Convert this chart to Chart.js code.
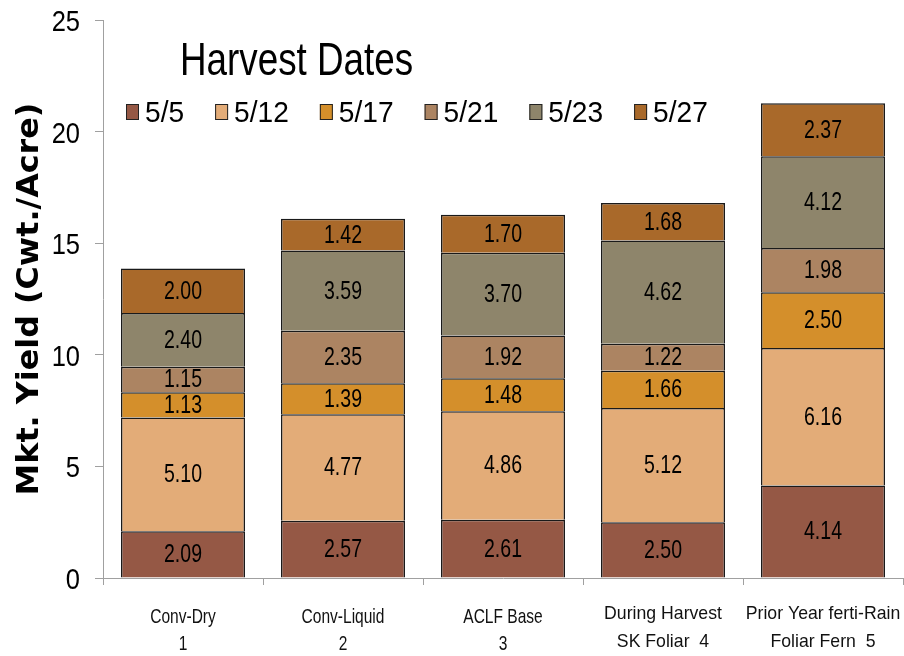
<!DOCTYPE html>
<html>
<head>
<meta charset="utf-8">
<script src="https://cdn.jsdelivr.net/npm/chart.js@4.4.1/dist/chart.umd.min.js"></script>
<style>
  html, body { margin: 0; padding: 0; background: #fff; }
  #wrap { width: 904px; height: 656px; position: relative; }
</style>
</head>
<body>
<div id="wrap"><canvas id="chart" width="904" height="656"></canvas></div>
<script>
/* ── data ── */
const categories = [
  ['Conv-Dry', '1'],
  ['Conv-Liquid', '2'],
  ['ACLF Base', '3'],
  ['During Harvest', 'SK Foliar  4'],
  ['Prior Year ferti-Rain', 'Foliar Fern  5']
];
const harvestDates = ['5/5', '5/12', '5/17', '5/21', '5/23', '5/27'];
const d0505 = [2.09, 2.57, 2.61, 2.50, 4.14];
const d0512 = [5.10, 4.77, 4.86, 5.12, 6.16];
const d0517 = [1.13, 1.39, 1.48, 1.66, 2.50];
const d0521 = [1.15, 2.35, 1.92, 1.22, 1.98];
const d0523 = [2.40, 3.59, 3.70, 4.62, 4.12];
const d0527 = [2.00, 1.42, 1.70, 1.68, 2.37];
const yTicks = [0, 5, 10, 15, 20, 25];

const COLORS = ['#955845', '#E3AC78', '#D48F2B', '#AC8462', '#8E856B', '#A9692A'];
const SANS = '"Liberation Sans", Arial, sans-serif';

const series = [d0505, d0512, d0517, d0521, d0523, d0527];

// draw text squeezed horizontally (stand-in for a narrow face)
function narrowText(ctx, text, x, y, sx) {
  ctx.save();
  ctx.translate(x, y);
  ctx.scale(sx, 1);
  ctx.fillText(text, 0, 0);
  ctx.restore();
}

/* ── axis labels, in-plot title + legend, y title ── */
const decor = {
  id: 'decor',
  afterDraw(chart) {
    const ctx = chart.ctx;
    const xs = chart.scales.x, ys = chart.scales.y;
    ctx.save();
    ctx.fillStyle = '#000';
    ctx.textBaseline = 'alphabetic';

    // y tick labels
    ctx.textAlign = 'right';
    ctx.font = '30px ' + SANS;
    ys.ticks.forEach((t, i) => {
      narrowText(ctx, String(t.value), 80, ys.getPixelForTick(i) + 11, 0.85);
    });

    // x category labels
    ctx.textAlign = 'center';
    ctx.fillStyle = '#111';
    categories.forEach((lines, i) => {
      const x = xs.getPixelForTick(i);
      const wide = i >= 3;
      ctx.font = (wide ? '19px ' : '21px ') + SANS;
      const sx = wide ? 0.93 : 0.74;
      const y0 = wide ? 619 : 623;
      const lh = wide ? 28 : 27;
      lines.forEach((ln, k) => narrowText(ctx, ln, x, y0 + k * lh, sx));
    });

    // in-plot title
    ctx.fillStyle = '#000';
    ctx.textAlign = 'left';
    ctx.font = '46px ' + SANS;
    narrowText(ctx, 'Harvest Dates', 180, 75, 0.8);

    // legend
    ctx.font = '29px ' + SANS;
    let x = 126;
    chart.data.datasets.forEach(ds => {
      ctx.fillStyle = ds.backgroundColor;
      ctx.fillRect(x, 104, 13, 16);
      ctx.strokeStyle = '#222';
      ctx.lineWidth = 1;
      ctx.strokeRect(x + 0.5, 104.5, 12, 15);
      ctx.fillStyle = '#000';
      const w = ctx.measureText(ds.label).width * 0.97;
      narrowText(ctx, ds.label, x + 19, 122, 0.97);
      x += 19 + w + 31;
    });

    // y title
    ctx.translate(38, (ys.top + ys.bottom) / 2);
    ctx.rotate(-Math.PI / 2);
    ctx.textAlign = 'center';
    ctx.font = 'bold 30px "DejaVu Sans", sans-serif';
    narrowText(ctx, 'Mkt. Yield (Cwt./Acre)', 0, 0, 1.06);
    ctx.restore();
  }
};

/* ── value labels in segments ── */
const valueLabels = {
  id: 'valueLabels',
  afterDatasetsDraw(chart) {
    const ctx = chart.ctx;
    ctx.save();
    ctx.fillStyle = '#000';
    ctx.font = '25px ' + SANS;
    ctx.textAlign = 'center';
    ctx.textBaseline = 'middle';
    chart.data.datasets.forEach((ds, i) => {
      chart.getDatasetMeta(i).data.forEach((bar, j) => {
        const y = (bar.y + bar.base) / 2;
        narrowText(ctx, ds.data[j].toFixed(2), bar.x, y + 1, 0.78);
      });
    });
    ctx.restore();
  }
};

new Chart(document.getElementById('chart'), {
  type: 'bar',
  data: {
    labels: categories,
    datasets: series.map((vals, i) => ({
      label: harvestDates[i],
      data: vals,
      backgroundColor: COLORS[i],
      borderColor: '#1a1a1a',
      borderWidth: 1.5,
      borderSkipped: 'start',
      inflateAmount: 0,
      categoryPercentage: 1,
      barPercentage: 0.775
    }))
  },
  options: {
    responsive: false,
    animation: false,
    layout: { padding: { top: 20, right: 1, left: 0, bottom: 0 } },
    plugins: {
      legend: { display: false },
      tooltip: { enabled: false }
    },
    scales: {
      x: {
        stacked: true,
        border: { display: true, color: '#a0a0a0', width: 1 },
        grid: { display: true, offset: true, drawOnChartArea: false, tickLength: 7, color: '#a0a0a0' },
        ticks: { display: false },
        afterFit: s => { s.height = 78; }
      },
      y: {
        stacked: true,
        min: 0,
        max: 25,
        afterBuildTicks: s => { s.ticks = yTicks.map(v => ({ value: v })); },
        border: { display: true, color: '#a0a0a0', width: 1 },
        grid: { display: true, drawOnChartArea: false, tickLength: 8, color: '#a0a0a0' },
        ticks: { display: false },
        afterFit: s => { s.width = 103; }
      }
    }
  },
  plugins: [decor, valueLabels]
});
</script>
</body>
</html>
